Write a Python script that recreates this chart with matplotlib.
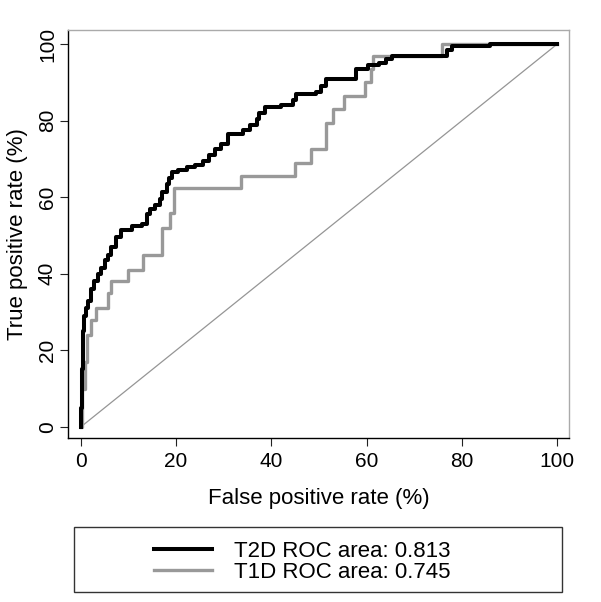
import matplotlib
matplotlib.use("Agg")
import matplotlib.pyplot as plt
from matplotlib.patches import Rectangle

plt.rcParams['font.family'] = ['Liberation Sans', 'DejaVu Sans']

# ROC corner points (false positive %, true positive %)
t2d_fpr = [0, 0.1, 0.2, 0.3, 0.4, 0.5, 0.7, 1.0, 1.6, 2.2, 2.8, 3.5, 4.2, 5.0, 5.6,
           6.3, 7.3, 8.4, 10.8, 12.9, 13.8, 14.6, 15.6, 16.7, 17.1, 18.0, 18.5, 19.1,
           20.5, 22.3, 24.0, 25.7, 27.0, 28.2, 29.5, 31.0, 34.1, 35.5, 36.9, 37.5,
           38.6, 42.1, 44.5, 45.2, 49.4, 50.5, 51.5, 56.4, 57.8, 60.2, 62.6, 64.0,
           65.4, 75.8, 76.8, 78.0, 86.0, 100]
t2d_tpr = [0, 5, 10, 15, 20, 25, 29, 31, 33, 36, 38, 40, 41.5, 43.5, 45,
           47, 49.5, 51.5, 52.5, 53, 55.5, 57, 58, 59.5, 61.5, 63.5, 65, 66.5,
           67, 68, 68.5, 69.5, 71, 72.5, 74, 76.5, 77.5, 79, 80.5, 82,
           83.5, 84, 85.5, 87, 87.5, 89, 91, 91, 93.4, 94.5, 95.1, 96,
           96.9, 96.9, 98.6, 99.5, 100, 100]

t1d_fpr = [0, 0.3, 0.8, 1.2, 2.2, 3.1, 5.6, 6.3, 9.8, 13.1, 17.1, 18.8, 19.6,
           33.6, 44.9, 48.4, 51.5, 53.0, 55.3, 59.7, 61.0, 61.4, 75.8, 100]
t1d_tpr = [0, 10, 17, 24, 28, 31, 35, 38, 41, 45, 52, 56, 62.5,
           65.5, 69, 72.5, 79.5, 83, 86.5, 90, 93.5, 97, 100, 100]

labels = ['T2D ROC area: 0.813', 'T1D ROC area: 0.745']
xticks = [0, 20, 40, 60, 80, 100]
yticks = [0, 20, 40, 60, 80, 100]

fig = plt.figure(figsize=(6.01, 6.02), dpi=100)
ax = fig.add_axes([68/601, 1 - 438/602, (569-68)/601, (438-30)/602])

ax.plot([0, 100], [0, 100], color='#959595', lw=0.9, zorder=1)
g, = ax.step(t1d_fpr, t1d_tpr, where='post', color='#999999', lw=2.4, zorder=2)
b, = ax.step(t2d_fpr, t2d_tpr, where='post', color='black', lw=2.9, zorder=3)

ax.set_xlim(-2.7, 102.5)
ax.set_ylim(-2.9, 103.7)
ax.set_xticks(xticks)
ax.set_yticks(yticks)
ax.tick_params(axis='both', labelsize=15, length=6, width=0.8, color='#222222')
ax.tick_params(axis='x', pad=4)
ax.tick_params(axis='y', pad=2)
for t in ax.get_yticklabels():
    t.set_rotation(90)
    t.set_va('center')

for s in ['left', 'bottom']:
    ax.spines[s].set_color('black')
    ax.spines[s].set_linewidth(1)
for s in ['top', 'right']:
    ax.spines[s].set_color('#aaaaaa')
    ax.spines[s].set_linewidth(1)

ax.set_xlabel('False positive rate (%)', fontsize=16, labelpad=12)
ax.set_ylabel('True positive rate (%)', fontsize=16, labelpad=7)

fig.add_artist(Rectangle((74/601, 1 - 592/602), (562-74)/601, (592-527)/602,
                         transform=fig.transFigure, fill=False,
                         edgecolor='#333333', lw=1))
fig.legend([b, g], labels, loc='center left', bbox_to_anchor=(154/601, 1 - 562/602),
           frameon=False, fontsize=16, handlelength=2.6, handletextpad=1.0,
           labelspacing=0.0, borderpad=0, borderaxespad=0)

fig.savefig('out.png', dpi=100, facecolor='white')
